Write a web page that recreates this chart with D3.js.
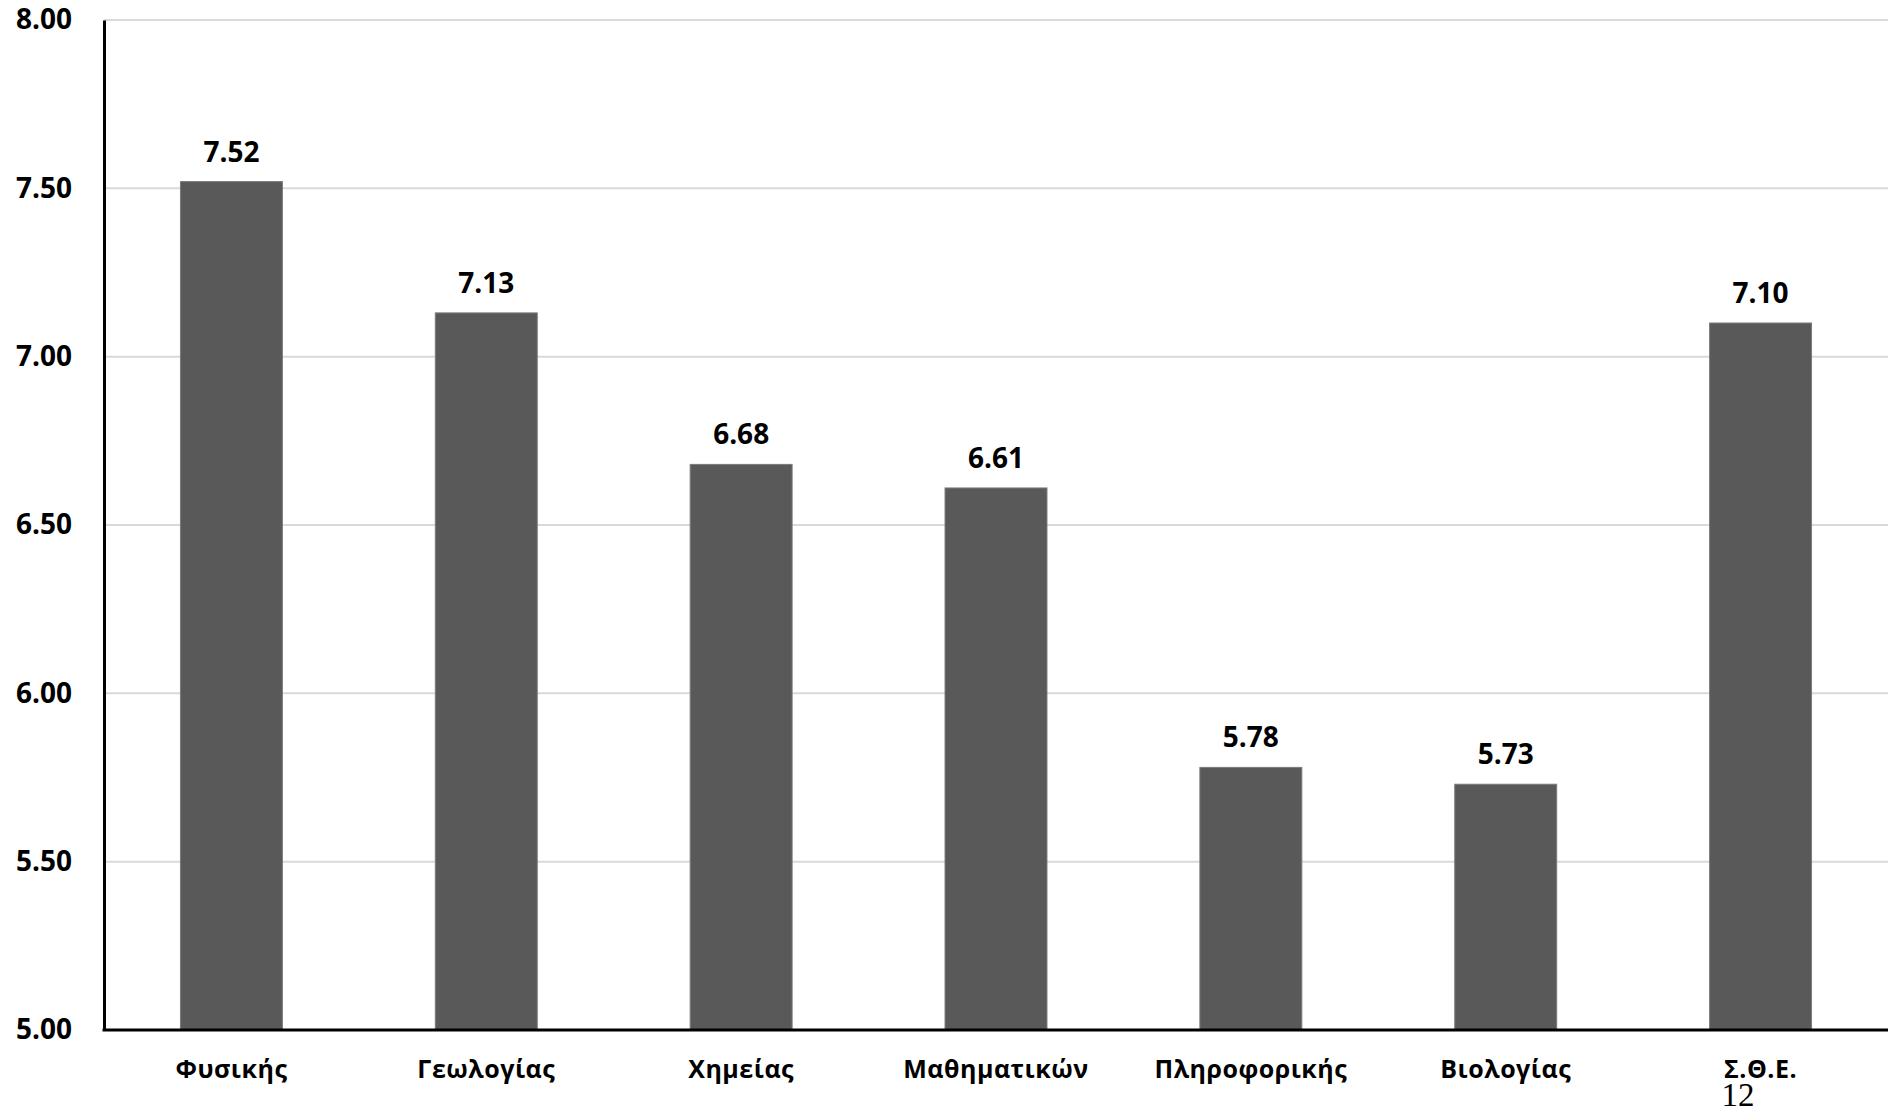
<!DOCTYPE html>
<html>
<head>
<meta charset="utf-8">
<script src="https://cdn.jsdelivr.net/npm/d3@7"></script>
<style>
  html, body { margin: 0; padding: 0; background: #fff; }
  svg { display: block; }
</style>
</head>
<body>
<svg id="chart" width="1895" height="1114"></svg>
<script>
const categories = ["Φυσικής", "Γεωλογίας", "Χημείας", "Μαθηματικών", "Πληροφορικής", "Βιολογίας", "Σ.Θ.Ε."];
const values = [7.52, 7.13, 6.68, 6.61, 5.78, 5.73, 7.10];
const yTicks = [5.00, 5.50, 6.00, 6.50, 7.00, 7.50, 8.00];
const pageNumber = "12";

const W = 1895, H = 1114;
const margin = { left: 104, right: 7, top: 20, bottom: 84 };
const svg = d3.select("#chart");
const sansFont = "'Open Sans', 'Noto Sans', sans-serif";

const x = d3.scaleBand()
  .domain(categories)
  .range([margin.left, W - margin.right])
  .paddingInner(0.6)
  .paddingOuter(0.3);

const y = d3.scaleLinear()
  .domain([5, 8])
  .range([H - margin.bottom, margin.top]);

// gridlines
svg.append("g")
  .selectAll("line")
  .data(yTicks.filter(d => d > 5))
  .join("line")
  .attr("x1", margin.left)
  .attr("x2", W - margin.right)
  .attr("y1", d => y(d))
  .attr("y2", d => y(d))
  .attr("stroke", "#d9d9d9")
  .attr("stroke-width", 2);

// bars
svg.append("g")
  .selectAll("rect")
  .data(values)
  .join("rect")
  .attr("x", (d, i) => x(categories[i]))
  .attr("width", x.bandwidth())
  .attr("y", d => y(d))
  .attr("height", d => y(5) - y(d))
  .attr("fill", "#595959")
  .attr("stroke", "#7a7a7a")
  .attr("stroke-width", 1);

// value labels
svg.append("g")
  .selectAll("text")
  .data(values)
  .join("text")
  .attr("x", (d, i) => x(categories[i]) + x.bandwidth() / 2)
  .attr("y", d => y(d) - 20)
  .attr("text-anchor", "middle")
  .style("font-family", sansFont)
  .style("font-weight", "bold")
  .style("font-size", "28px")
  .style("fill", "#000")
  .text(d => d.toFixed(2));

// y axis
const yAxis = d3.axisLeft(y)
  .tickValues(yTicks)
  .tickFormat(d3.format(".2f"))
  .tickSize(0)
  .tickPadding(32);
const gy = svg.append("g")
  .attr("transform", `translate(${margin.left},0)`)
  .call(yAxis);
gy.select(".domain").attr("stroke", "#000").attr("stroke-width", 3);
gy.selectAll("text")
  .style("font-size", "28px")
  .style("font-family", sansFont)
  .style("font-weight", "bold")
  .style("fill", "#000");

// x axis
const xAxis = d3.axisBottom(x).tickSize(0).tickPadding(30);
const gx = svg.append("g")
  .attr("transform", `translate(0,${y(5)})`)
  .call(xAxis);
gx.select(".domain").remove();
gx.append("line")
  .attr("x1", margin.left - 1.5)
  .attr("x2", W - margin.right)
  .attr("y1", 0).attr("y2", 0)
  .attr("stroke", "#000")
  .attr("stroke-width", 3);
gx.selectAll(".tick text")
  .style("font-size", "25px")
  .style("letter-spacing", "0.5px")
  .style("font-family", sansFont)
  .style("font-weight", "bold")
  .style("fill", "#000");

// page number
svg.append("text")
  .attr("x", x(categories[categories.length - 1]) + x.bandwidth() / 2 - 39)
  .attr("y", 1106)
  .style("font-family", "'Liberation Serif', 'Times New Roman', serif")
  .style("font-weight", "normal")
  .style("font-size", "33px")
  .style("fill", "#000")
  .text(pageNumber);
</script>
</body>
</html>
